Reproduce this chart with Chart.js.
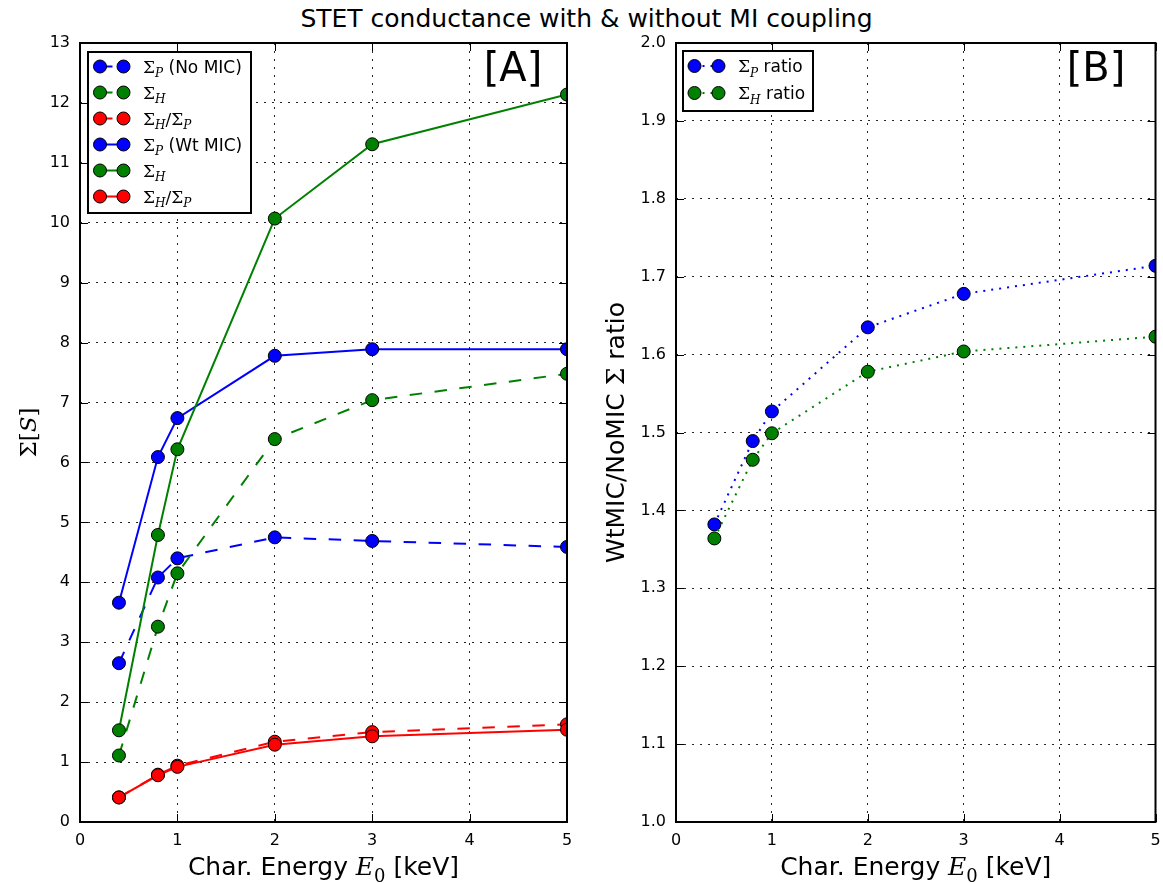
<!DOCTYPE html>
<html>
<head>
<meta charset="utf-8">
<script src="https://cdn.jsdelivr.net/npm/chart.js@4.4.1/dist/chart.umd.min.js"></script>
<style>
  body { margin: 0; background: #fff; width: 1163px; height: 883px; overflow: hidden; position: relative; }
  #title { position: absolute; top: 0; left: 0; width: 1173px; text-align: center; line-height: 37px;
           font-family: 'DejaVu Sans', sans-serif; font-size: 25px; color: #000; }
  canvas { position: absolute; top: 0; }
  #chart-a { left: 0; }
  #chart-b { left: 590px; }
</style>
</head>
<body>
<div id="title">STET conductance with &amp; without MI coupling</div>
<canvas id="chart-a" width="590" height="883"></canvas>
<canvas id="chart-b" width="573" height="883"></canvas>
<script>
// characteristic energy E0 [keV]
const energies = [0.4, 0.8, 1, 2, 3, 5];

// panel A: conductances [S]
const sigmaPNoMic = [2.65, 4.08, 4.40, 4.75, 4.69, 4.59];
const sigmaHNoMic = [1.11, 3.26, 4.15, 6.39, 7.04, 7.48];
const ratioNoMic = [0.41, 0.79, 0.94, 1.34, 1.50, 1.63];
const sigmaPWtMic = [3.66, 6.09, 6.74, 7.78, 7.89, 7.89];
const sigmaHWtMic = [1.53, 4.79, 6.22, 10.07, 11.31, 12.14];
const ratioWtMic = [0.41, 0.78, 0.92, 1.29, 1.43, 1.54];

// panel B: WtMIC / NoMIC ratios
const sigmaPRatio = [1.382, 1.489, 1.527, 1.635, 1.678, 1.714];
const sigmaHRatio = [1.364, 1.465, 1.499, 1.578, 1.604, 1.623];

const BLUE = '#0000ff';
const GREEN = '#008000';
const RED = '#ff0000';
const SANS = "'DejaVu Sans', sans-serif";
const SERIF = "'DejaVu Serif', serif";

function toPoints(values) {
  return energies.map((x, i) => ({ x, y: values[i] }));
}

function makeSeries(runs, values, color, dash, index) {
  return {
    label: runs.map((r) => r[0]).join(''),
    runs,
    data: toPoints(values),
    borderColor: color,
    backgroundColor: color,
    borderWidth: 2,
    borderDash: dash,
    pointRadius: 6.5,
    pointHoverRadius: 6.5,
    pointBackgroundColor: color,
    pointBorderColor: '#000',
    pointBorderWidth: 1,
    tension: 0,
    fill: false,
    order: -index,
  };
}

// text runs: 'sym' serif upright, 'it' serif italic, 'sub' italic subscript, 'num' upright subscript, 'txt' sans
function runFont(kind, size) {
  if (kind === 'sym') return `${size}px ${SERIF}`;
  if (kind === 'it') return `italic ${size}px ${SERIF}`;
  if (kind === 'sub') return `italic ${Math.round(size * 0.7)}px ${SERIF}`;
  if (kind === 'num') return `${Math.round(size * 0.7)}px ${SERIF}`;
  return `${size}px ${SANS}`;
}

function drawRuns(ctx, runs, size, x, y, align) {
  let total = 0;
  const widths = runs.map(([text, kind]) => {
    ctx.font = runFont(kind, size);
    const w = ctx.measureText(text).width;
    total += w;
    return w;
  });
  let cx = align === 'center' ? x - total / 2 : x;
  ctx.textAlign = 'left';
  ctx.textBaseline = 'alphabetic';
  ctx.fillStyle = '#000';
  runs.forEach(([text, kind], i) => {
    ctx.font = runFont(kind, size);
    const dy = kind === 'sub' || kind === 'num' ? size * 0.28 : 0;
    ctx.fillText(text, cx, y + dy);
    cx += widths[i];
  });
}

const frameAndLabels = {
  id: 'frameAndLabels',
  afterDraw(chart, args, opts) {
    const { ctx, chartArea: area, scales } = chart;
    ctx.save();

    // inward tick marks on all four sides
    ctx.strokeStyle = '#000';
    ctx.lineWidth = 1;
    ctx.beginPath();
    scales.x.ticks.forEach((t) => {
      const px = Math.round(scales.x.getPixelForValue(t.value)) + 0.5;
      ctx.moveTo(px, area.bottom); ctx.lineTo(px, area.bottom - 8);
      ctx.moveTo(px, area.top); ctx.lineTo(px, area.top + 8);
    });
    scales.y.ticks.forEach((t) => {
      const py = Math.round(scales.y.getPixelForValue(t.value)) + 0.5;
      ctx.moveTo(area.left, py); ctx.lineTo(area.left + 8, py);
      ctx.moveTo(area.right, py); ctx.lineTo(area.right - 8, py);
    });
    ctx.stroke();

    // legend box
    const lg = opts.legend;
    ctx.fillStyle = '#fff';
    ctx.fillRect(lg.x, lg.y, lg.w, lg.h);
    ctx.lineWidth = 2;
    ctx.strokeRect(lg.x, lg.y, lg.w, lg.h);
    chart.data.datasets.forEach((ds, i) => {
      const rowY = lg.firstRow + i * lg.step;
      ctx.strokeStyle = ds.borderColor;
      ctx.lineWidth = 2;
      ctx.setLineDash(ds.borderDash || []);
      ctx.beginPath();
      ctx.moveTo(lg.marker1, rowY);
      ctx.lineTo(lg.marker2, rowY);
      ctx.stroke();
      ctx.setLineDash([]);
      [lg.marker1, lg.marker2].forEach((mx) => {
        ctx.beginPath();
        ctx.arc(mx, rowY, 6.5, 0, Math.PI * 2);
        ctx.fillStyle = ds.borderColor;
        ctx.fill();
        ctx.lineWidth = 1;
        ctx.strokeStyle = '#000';
        ctx.stroke();
      });
      drawRuns(ctx, ds.runs, 17, lg.textX, rowY + 6, 'left');
    });

    // axes frame
    ctx.strokeStyle = '#000';
    ctx.lineWidth = 2;
    ctx.strokeRect(area.left, area.top, area.right - area.left, area.bottom - area.top);

    // panel tag
    ctx.fillStyle = '#000';
    ctx.font = `40px ${SANS}`;
    ctx.textAlign = 'center';
    ctx.textBaseline = 'middle';
    ctx.fillText(opts.tag, opts.tagX, 71);

    // axis titles
    const xCenter = (area.left + area.right) / 2;
    drawRuns(ctx, [['Char. Energy ', 'txt'], ['E', 'it'], ['0', 'num'], [' [keV]', 'txt']], 25, xCenter, 875, 'center');
    ctx.translate(opts.yTitleX, (area.top + area.bottom) / 2);
    ctx.rotate(-Math.PI / 2);
    drawRuns(ctx, opts.yTitle, opts.yTitleSize, 0, 9, 'center');
    ctx.restore();
  },
};

function baseScales(yMin, yMax, yStep, yWidth, yFormat) {
  const grid = { color: 'rgba(0,0,0,0.85)', lineWidth: 1, drawTicks: false };
  const border = { display: false, dash: [2, 6] };
  const tickFont = { family: SANS, size: 16 };
  return {
    x: {
      type: 'linear',
      min: 0,
      max: 5,
      grid,
      border,
      ticks: { stepSize: 1, color: '#000', font: tickFont, padding: 9, maxRotation: 0 },
      afterFit(scale) {
        scale.height = 61;
        scale.paddingLeft = 0;
        scale.paddingRight = 0;
      },
    },
    y: {
      min: yMin,
      max: yMax,
      grid,
      border,
      ticks: { stepSize: yStep, color: '#000', font: tickFont, padding: 10, callback: yFormat },
      afterFit(scale) {
        scale.width = yWidth;
        scale.paddingTop = 0;
        scale.paddingBottom = 0;
      },
    },
  };
}

new Chart(document.getElementById('chart-a'), {
  type: 'line',
  data: {
    datasets: [
      makeSeries([['Σ', 'sym'], ['P', 'sub'], [' (No MIC)', 'txt']], sigmaPNoMic, BLUE, [12.5, 12.5], 0),
      makeSeries([['Σ', 'sym'], ['H', 'sub']], sigmaHNoMic, GREEN, [12.5, 12.5], 1),
      makeSeries([['Σ', 'sym'], ['H', 'sub'], ['/', 'sym'], ['Σ', 'sym'], ['P', 'sub']], ratioNoMic, RED, [12.5, 12.5], 2),
      makeSeries([['Σ', 'sym'], ['P', 'sub'], [' (Wt MIC)', 'txt']], sigmaPWtMic, BLUE, [], 3),
      makeSeries([['Σ', 'sym'], ['H', 'sub']], sigmaHWtMic, GREEN, [], 4),
      makeSeries([['Σ', 'sym'], ['H', 'sub'], ['/', 'sym'], ['Σ', 'sym'], ['P', 'sub']], ratioWtMic, RED, [], 5),
    ],
  },
  options: {
    responsive: false,
    animation: false,
    layout: { padding: { top: 43, right: 23, bottom: 0, left: 0 } },
    scales: baseScales(0, 13, 1, 80, (v) => v),
    plugins: {
      legend: { display: false },
      tooltip: { enabled: false },
      frameAndLabels: {
        tag: '[A]',
        tagX: 513,
        yTitleX: 27,
        yTitleSize: 23,
        yTitle: [['Σ[', 'sym'], ['S', 'it'], [']', 'sym']],
        legend: { x: 88, y: 52, w: 163, h: 161, firstRow: 66.5, step: 26, marker1: 100, marker2: 123.5, textX: 143 },
      },
    },
  },
  plugins: [frameAndLabels],
});

new Chart(document.getElementById('chart-b'), {
  type: 'line',
  data: {
    datasets: [
      makeSeries([['Σ', 'sym'], ['P', 'sub'], [' ratio', 'txt']], sigmaPRatio, BLUE, [2, 6], 0),
      makeSeries([['Σ', 'sym'], ['H', 'sub'], [' ratio', 'txt']], sigmaHRatio, GREEN, [2, 6], 1),
    ],
  },
  options: {
    responsive: false,
    animation: false,
    layout: { padding: { top: 43, right: 2, bottom: 0, left: 0 } },
    scales: baseScales(1, 2, 0.1, 86, (v) => Number(v).toFixed(1)),
    plugins: {
      legend: { display: false },
      tooltip: { enabled: false },
      frameAndLabels: {
        tag: '[B]',
        tagX: 506,
        yTitleX: 25,
        yTitleSize: 25,
        yTitle: [['WtMIC/NoMIC ', 'txt'], ['Σ', 'sym'], [' ratio', 'txt']],
        legend: { x: 93, y: 51, w: 130, h: 60, firstRow: 66, step: 27, marker1: 104.5, marker2: 128.5, textX: 148 },
      },
    },
  },
  plugins: [frameAndLabels],
});
</script>
</body>
</html>
